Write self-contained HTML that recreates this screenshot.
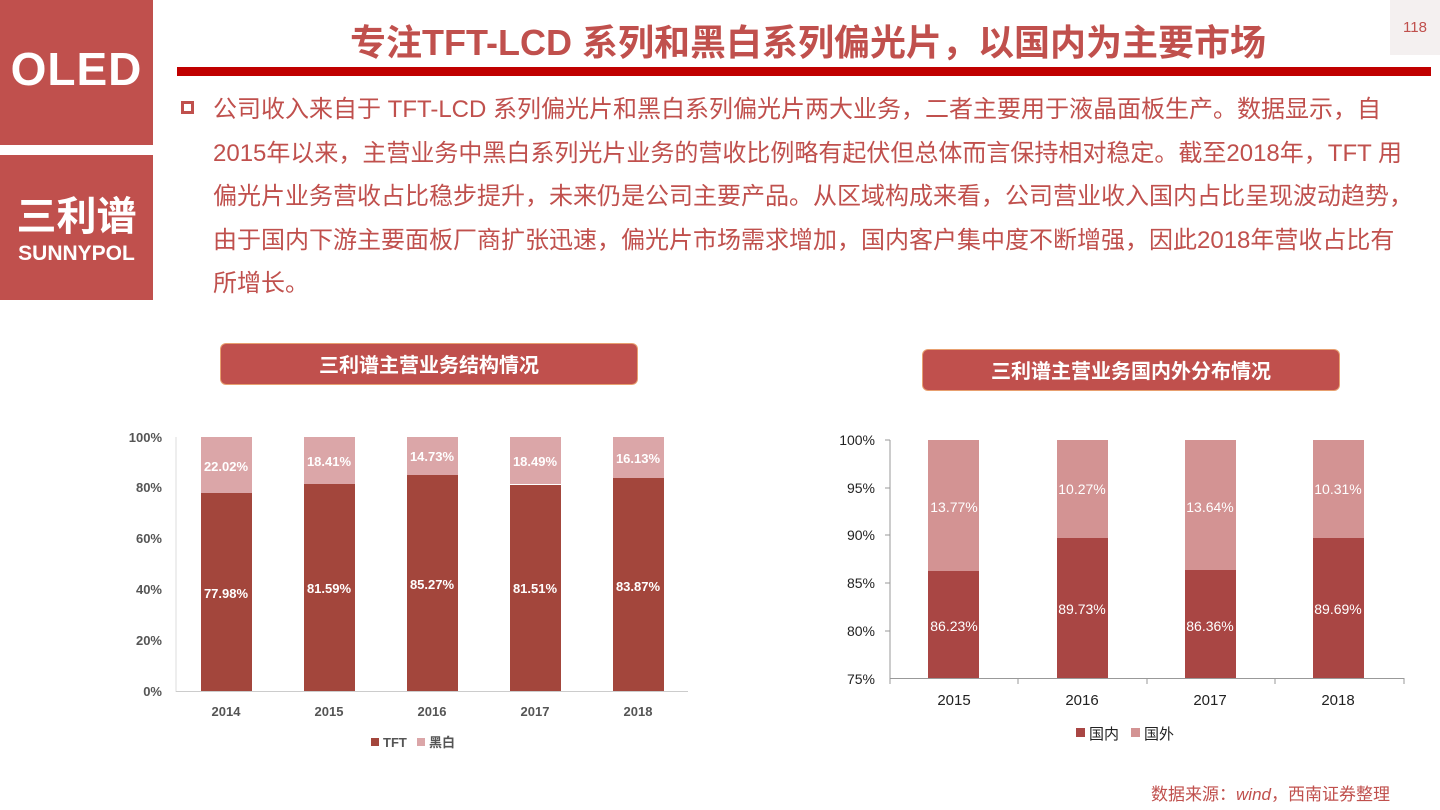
<!DOCTYPE html>
<html><head><meta charset="utf-8"><style>
body{margin:0;width:1440px;height:810px;background:#fff;overflow:hidden;position:relative;font-family:"Liberation Sans","Noto Sans CJK SC",sans-serif}
.a{position:absolute}
</style></head><body>
<div class="a" style="left:0;top:0;width:153px;height:145px;background:#c0504d"></div>
<div class="a" style="left:0;top:42px;width:153px;text-align:center;color:#fff;font-size:46px;font-weight:bold;letter-spacing:1px">OLED</div>
<div class="a" style="left:0;top:155px;width:153px;height:145px;background:#c0504d"></div>
<div class="a" style="left:0;top:188px;width:153px;text-align:center;color:#fff;font-size:40px;font-weight:bold;font-family:'Noto Sans CJK SC',sans-serif;line-height:50px">三利谱</div>
<div class="a" style="left:0;top:242px;width:153px;text-align:center;color:#fff;font-size:21px;font-weight:bold">SUNNYPOL</div>
<div class="a" style="left:176px;top:14px;width:1264px;text-align:center;color:#c0504d;font-size:36px;font-weight:bold;font-family:'Liberation Sans','Noto Sans CJK SC',sans-serif;white-space:nowrap">专注TFT-LCD 系列和黑白系列偏光片，以国内为主要市场</div>
<div class="a" style="left:177px;top:67px;width:1254px;height:9px;background:#c00000"></div>
<div class="a" style="left:1390px;top:0;width:50px;height:55px;background:#f4f0f0;color:#c0504d;font-size:15px;text-align:center;line-height:55px">118</div>
<div class="a" style="left:181px;top:101px;width:13px;height:13px;border:3px solid #c0504d;box-sizing:border-box"></div>
<div class="a" style="left:213px;top:88px;width:1220px;color:#c0504d;font-size:24px;line-height:43.5px;white-space:nowrap;font-family:'Liberation Sans','Noto Sans CJK SC',sans-serif">公司收入来自于 TFT-LCD 系列偏光片和黑白系列偏光片两大业务，二者主要用于液晶面板生产。数据显示，自<br>2015年以来，主营业务中黑白系列光片业务的营收比例略有起伏但总体而言保持相对稳定。截至2018年，TFT 用<br>偏光片业务营收占比稳步提升，未来仍是公司主要产品。从区域构成来看，公司营业收入国内占比呈现波动趋势，<br>由于国内下游主要面板厂商扩张迅速，偏光片市场需求增加，国内客户集中度不断增强，因此2018年营收占比有<br>所增长。</div>
<div class="a" style="left:221px;top:344px;width:416px;height:40px;background:#c0504d;border-radius:5px;color:#fff;font-size:20px;font-weight:bold;text-align:center;line-height:40px;font-family:'Noto Sans CJK SC',sans-serif;box-shadow:0 0 0 1px #e8a070">三利谱主营业务结构情况</div>
<div class="a" style="left:923px;top:350px;width:416px;height:40px;background:#c0504d;border-radius:5px;color:#fff;font-size:20px;font-weight:bold;text-align:center;line-height:40px;font-family:'Noto Sans CJK SC',sans-serif;box-shadow:0 0 0 1px #e8a070">三利谱主营业务国内外分布情况</div>
<svg class="a" style="left:0;top:0" width="1440" height="810" font-family="Liberation Sans,Noto Sans CJK SC,sans-serif">
<g font-size="13" font-weight="bold" fill="#555" text-anchor="end">
<text x="162" y="442">100%</text><text x="162" y="492">80%</text><text x="162" y="543">60%</text><text x="162" y="594">40%</text><text x="162" y="645">20%</text><text x="162" y="696">0%</text></g>
<line x1="176" y1="437" x2="176" y2="692" stroke="#ddd"/>
<line x1="176" y1="691.5" x2="688" y2="691.5" stroke="#ccc"/>
<g fill="#dba6a8">
<rect x="201" y="437" width="51" height="56"/><rect x="304" y="437" width="51" height="47"/><rect x="407" y="437" width="51" height="38"/><rect x="510" y="437" width="51" height="47"/><rect x="613" y="437" width="51" height="41"/></g>
<g fill="#a3463c">
<rect x="201" y="493" width="51" height="198"/><rect x="304" y="484" width="51" height="207"/><rect x="407" y="475" width="51" height="216"/><rect x="510" y="485" width="51" height="206"/><rect x="613" y="478" width="51" height="213"/></g>
<g fill="#fff" font-size="13" font-weight="bold" text-anchor="middle">
<text x="226" y="471">22.02%</text><text x="329" y="466">18.41%</text><text x="432" y="461">14.73%</text><text x="535" y="466">18.49%</text><text x="638" y="463">16.13%</text>
<text x="226" y="598">77.98%</text><text x="329" y="593">81.59%</text><text x="432" y="589">85.27%</text><text x="535" y="593">81.51%</text><text x="638" y="591">83.87%</text></g>
<g fill="#555" font-size="13" font-weight="bold" text-anchor="middle">
<text x="226" y="716">2014</text><text x="329" y="716">2015</text><text x="432" y="716">2016</text><text x="535" y="716">2017</text><text x="638" y="716">2018</text></g>
<rect x="371" y="738" width="8" height="8" fill="#a3463c"/><text x="383" y="747" font-size="13" font-weight="bold" fill="#555">TFT</text>
<rect x="417" y="738" width="8" height="8" fill="#dba6a8"/><text x="429" y="747" font-size="13" font-weight="bold" fill="#555">黑白</text>

<g font-size="14" fill="#222" text-anchor="end">
<text x="875" y="445">100%</text><text x="875" y="493">95%</text><text x="875" y="540">90%</text><text x="875" y="588">85%</text><text x="875" y="636">80%</text><text x="875" y="684">75%</text></g>
<line x1="890" y1="440" x2="890" y2="680" stroke="#999"/>
<line x1="885" y1="440" x2="890" y2="440" stroke="#999"/>
<line x1="885" y1="488" x2="890" y2="488" stroke="#999"/>
<line x1="885" y1="535" x2="890" y2="535" stroke="#999"/>
<line x1="885" y1="583" x2="890" y2="583" stroke="#999"/>
<line x1="885" y1="631" x2="890" y2="631" stroke="#999"/>
<line x1="890" y1="678.5" x2="1404" y2="678.5" stroke="#999"/>
<g stroke="#999"><line x1="1018" y1="678" x2="1018" y2="684"/><line x1="1147" y1="678" x2="1147" y2="684"/><line x1="1275" y1="678" x2="1275" y2="684"/><line x1="1404" y1="678" x2="1404" y2="684"/><line x1="890" y1="678" x2="890" y2="684"/></g>
<g fill="#d39393">
<rect x="928" y="440" width="51" height="131"/><rect x="1057" y="440" width="51" height="98"/><rect x="1185" y="440" width="51" height="130"/><rect x="1313" y="440" width="51" height="98"/></g>
<g fill="#a94644">
<rect x="928" y="571" width="51" height="107"/><rect x="1057" y="538" width="51" height="140"/><rect x="1185" y="570" width="51" height="108"/><rect x="1313" y="538" width="51" height="140"/></g>
<g fill="#fff" font-size="14" text-anchor="middle">
<text x="954" y="512">13.77%</text><text x="1082" y="494">10.27%</text><text x="1210" y="512">13.64%</text><text x="1338" y="494">10.31%</text>
<text x="954" y="631">86.23%</text><text x="1082" y="614">89.73%</text><text x="1210" y="631">86.36%</text><text x="1338" y="614">89.69%</text></g>
<g fill="#222" font-size="15" text-anchor="middle">
<text x="954" y="705">2015</text><text x="1082" y="705">2016</text><text x="1210" y="705">2017</text><text x="1338" y="705">2018</text></g>
<rect x="1076" y="728" width="9" height="9" fill="#a94644"/><text x="1089" y="739" font-size="15" fill="#222">国内</text>
<rect x="1131" y="728" width="9" height="9" fill="#d39393"/><text x="1144" y="739" font-size="15" fill="#222">国外</text>
<text x="1390" y="800" text-anchor="end" font-size="17" fill="#c0504d">数据来源：<tspan font-style="italic">wind</tspan>，西南证券整理</text>
</svg>
</body></html>
